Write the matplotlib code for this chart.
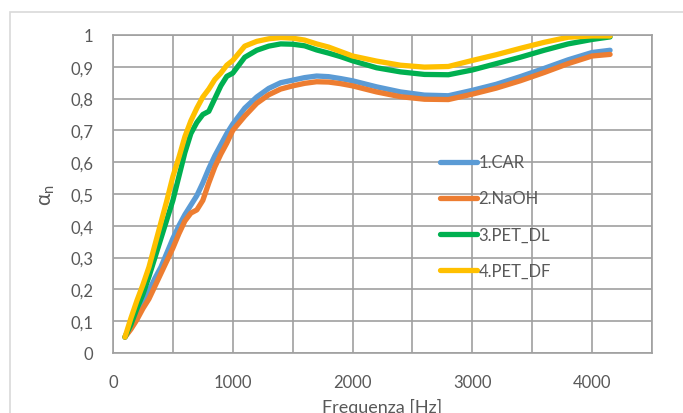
import numpy as np
import matplotlib
matplotlib.use('Agg')
import matplotlib.pyplot as plt
from matplotlib.patches import Rectangle

freq = [100, 150, 200, 250, 300, 350, 400, 450, 500, 550, 600, 650, 700, 750,
        800, 850, 900, 950, 1000, 1100, 1200, 1300, 1400, 1500, 1600, 1700,
        1800, 1900, 2000, 2200, 2400, 2600, 2800, 3000, 3200, 3400, 3600,
        3800, 4000, 4150]

car = [0.05, 0.09, 0.13, 0.165, 0.195, 0.235, 0.27, 0.315, 0.36, 0.40, 0.435,
       0.465, 0.495, 0.535, 0.58, 0.62, 0.655, 0.69, 0.72, 0.77, 0.805, 0.832,
       0.85, 0.858, 0.866, 0.871, 0.869, 0.863, 0.856, 0.837, 0.821, 0.811,
       0.809, 0.826, 0.845, 0.869, 0.895, 0.922, 0.945, 0.952]

naoh = [0.05, 0.075, 0.105, 0.14, 0.17, 0.21, 0.25, 0.29, 0.33, 0.375, 0.415,
        0.44, 0.45, 0.48, 0.535, 0.585, 0.625, 0.66, 0.70, 0.745, 0.785, 0.812,
        0.83, 0.84, 0.848, 0.853, 0.852, 0.847, 0.84, 0.821, 0.806, 0.798,
        0.797, 0.814, 0.833, 0.856, 0.882, 0.91, 0.934, 0.939]

pet_dl = [0.05, 0.09, 0.14, 0.185, 0.24, 0.30, 0.36, 0.42, 0.48, 0.555, 0.63,
          0.69, 0.725, 0.75, 0.76, 0.80, 0.84, 0.87, 0.88, 0.93, 0.952, 0.965,
          0.972, 0.971, 0.966, 0.953, 0.943, 0.932, 0.919, 0.897, 0.884, 0.876,
          0.875, 0.89, 0.91, 0.93, 0.952, 0.972, 0.986, 0.994]

pet_df = [0.05, 0.11, 0.165, 0.215, 0.27, 0.34, 0.41, 0.48, 0.555, 0.615, 0.68,
          0.73, 0.77, 0.805, 0.83, 0.86, 0.88, 0.905, 0.92, 0.965, 0.98,
          0.988, 0.992, 0.99, 0.984, 0.972, 0.962, 0.948, 0.934, 0.918, 0.905,
          0.899, 0.901, 0.92, 0.938, 0.958, 0.977, 0.993, 0.997, 0.997]

labels = ['1.CAR', '2.NaOH', '3.PET_DL', '4.PET_DF']
colors = ['#5B9BD5', '#ED7D31', '#00B050', '#FFC000']

x_ticks = [0, 1000, 2000, 3000, 4000]
y_ticks = [0, 0.1, 0.2, 0.3, 0.4, 0.5, 0.6, 0.7, 0.8, 0.9, 1]
y_tick_labels = ['0', '0,1', '0,2', '0,3', '0,4', '0,5', '0,6', '0,7', '0,8', '0,9', '1']

text_color = '#595959'
grid_color = '#a0a0a0'

plt.rcParams['font.family'] = ['Lato', 'DejaVu Sans']

fig = plt.figure(figsize=(6.83, 4.14), dpi=100)
# excel chart area border (only left/top visible in the crop)
fig.patches.append(Rectangle((10 / 683, -0.1), 1.2, 1.1 - 13.5 / 414,
                             transform=fig.transFigure, fill=False,
                             edgecolor='#d9d9d9', linewidth=1.2))

ax = fig.add_axes([113 / 683, 60 / 414, 539 / 683, 318 / 414])

for series, label, color in zip([car, naoh, pet_dl, pet_df], labels, colors):
    ax.plot(freq, series, color=color, linewidth=3.8, label=label,
            solid_capstyle='round', solid_joinstyle='round')

ax.set_xlim(0, 4500)
ax.set_ylim(0, 1)
ax.set_xticks(np.arange(0, 4501, 500), minor=False)
ax.set_xticklabels([str(t) if t in x_ticks else '' for t in np.arange(0, 4501, 500)])
ax.set_yticks(y_ticks)
ax.set_yticklabels(y_tick_labels)

ax.grid(True, color=grid_color, linewidth=1.2)
ax.set_axisbelow(True)
for spine in ax.spines.values():
    spine.set_color(grid_color)
    spine.set_linewidth(1.2)

ax.tick_params(length=0, labelsize=12, labelcolor=text_color)
ax.tick_params(axis='y', pad=14)
ax.tick_params(axis='x', pad=15)

ax.set_xlabel('Frequenza [Hz]', fontsize=13, color=text_color, labelpad=6)
ax.set_ylabel(r'α$_\mathregular{n}$', fontsize=15, color=text_color, labelpad=10)

ax.legend(loc='center left', bbox_to_anchor=(0.6067, 0.4296), frameon=False,
          fontsize=12, labelcolor=text_color, handlelength=2.2,
          handletextpad=0.1, labelspacing=1.2, borderpad=0, borderaxespad=0)

fig.savefig('out.png', dpi=100)
